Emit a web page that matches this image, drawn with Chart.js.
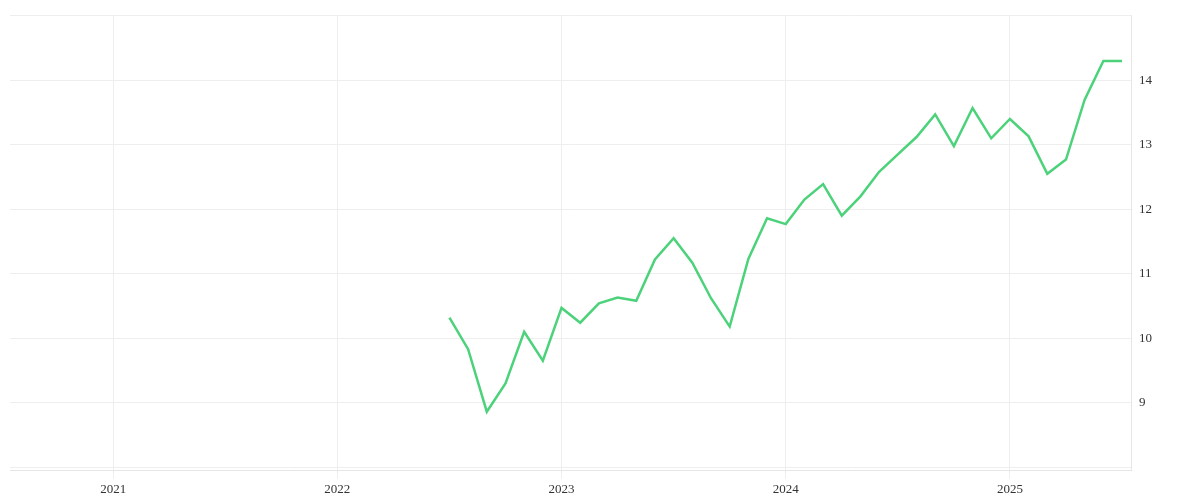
<!DOCTYPE html>
<html><head><meta charset="utf-8">
<script src="https://cdn.jsdelivr.net/npm/chart.js@4"></script>
<style>body{margin:0;background:#fff}#wrap{width:1200px;height:500px}</style>
</head><body><div id="wrap"><canvas id="c"></canvas></div>
<script>
const months = ['2022-07','2022-08','2022-09','2022-10','2022-11','2022-12',
  '2023-01','2023-02','2023-03','2023-04','2023-05','2023-06','2023-07','2023-08','2023-09','2023-10','2023-11','2023-12',
  '2024-01','2024-02','2024-03','2024-04','2024-05','2024-06','2024-07','2024-08','2024-09','2024-10','2024-11','2024-12',
  '2025-01','2025-02','2025-03','2025-04','2025-05','2025-06','2025-07'];
const values = [10.32,9.83,8.86,9.3,10.1,9.65,
  10.47,10.24,10.54,10.63,10.58,11.22,11.55,11.17,10.62,10.18,11.23,11.86,
  11.77,12.15,12.39,11.9,12.2,12.58,12.85,12.12+1.0,13.47,12.98,13.57,13.1,
  13.4,13.13,12.55,12.77,13.7,14.3,14.3];
const yTicks = [9,10,11,12,13,14];

const toX = m => { const [y, mo] = m.split('-').map(Number); return y + (mo - 1) / 12; };
const points = months.map((m, i) => ({ x: toX(m), y: values[i] }));

new Chart(document.getElementById('c'), {
  type: 'line',
  data: { datasets: [{ data: points, borderColor: '#4cd27a', borderWidth: 2.5, pointRadius: 0, tension: 0 }] },
  options: {
    responsive: true, maintainAspectRatio: false, animation: false,
    layout: { padding: { left: 10, right: 40, top: 8, bottom: 0 } },
    plugins: { legend: { display: false }, tooltip: { enabled: false } },
    scales: {
      x: {
        type: 'linear', min: 2020.54, max: 2025.54,
        afterBuildTicks: ax => { ax.ticks = [2021,2022,2023,2024,2025].map(v => ({ value: v })); },
        ticks: { color: '#333', font: { family: 'Liberation Serif', size: 13 }, callback: v => String(v), maxRotation: 0 },
        grid: { color: '#eeeeee', tickLength: 8 },
        border: { color: '#e6e6e6' }
      },
      y: {
        position: 'right', min: 7.95, max: 15.0,
        afterBuildTicks: ax => { ax.ticks = [8, ...yTicks, 15].map(v => ({ value: v })); },
        ticks: { color: '#333', font: { family: 'Liberation Serif', size: 13 }, padding: 8,
          callback: v => yTicks.includes(v) ? String(v) : '' },
        grid: { color: '#eeeeee', drawTicks: false },
        border: { color: '#e6e6e6' }
      }
    }
  }
});
</script></body></html>
